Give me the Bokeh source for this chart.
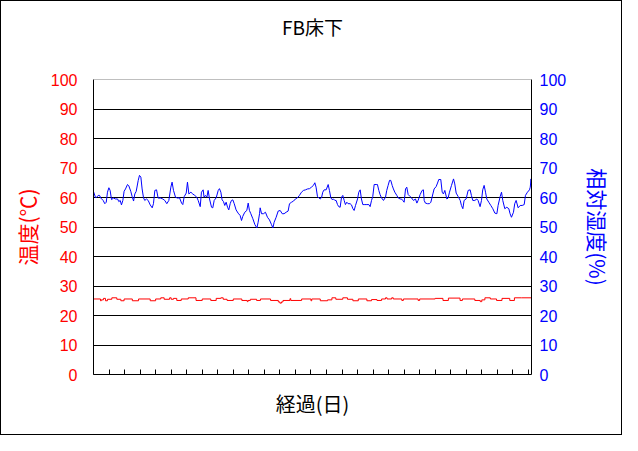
from bokeh.plotting import figure
from bokeh.models import LinearAxis, Range1d, FixedTicker, Span
from bokeh.embed import file_html
from bokeh.resources import INLINE

title_text = "FB床下"
x_title = "経過(日)"
left_title = "温度(℃)"
right_title = "相対湿度(%)"
y_ticks = [0, 10, 20, 30, 40, 50, 60, 70, 80, 90, 100]
day_ticks = list(range(0, 29))

# relative humidity (%) vs elapsed days
rh_day = [0.00, 0.13, 0.19, 0.30, 0.39, 0.47, 0.62, 0.73, 0.82, 0.90, 0.99, 1.07, 1.16, 1.29, 1.42, 1.55, 1.63, 1.72, 1.80, 1.89,
          1.97, 2.06, 2.19, 2.27, 2.40, 2.49, 2.58, 2.66, 2.75, 2.88, 2.96, 3.05, 3.13, 3.22, 3.30, 3.41, 3.52, 3.65, 3.78, 3.86,
          3.95, 4.06, 4.16, 4.33, 4.46, 4.59, 4.72, 4.85, 4.98, 5.06, 5.15, 5.28, 5.41, 5.54, 5.67, 5.75, 5.84, 5.97, 6.05, 6.14,
          6.27, 6.39, 6.52, 6.65, 6.74, 6.87, 6.95, 7.06, 7.12, 7.21, 7.30, 7.38, 7.47, 7.60, 7.68, 7.77, 7.90, 8.03, 8.11, 8.20,
          8.28, 8.37, 8.45, 8.54, 8.63, 8.71, 8.80, 8.88, 8.97, 9.06, 9.18, 9.31, 9.44, 9.53, 9.61, 9.74, 9.87, 9.96, 10.04, 10.13,
          10.26, 10.39, 10.52, 10.60, 10.69, 10.73, 10.82, 10.94, 11.07, 11.20, 11.33, 11.46, 11.55, 11.63, 11.76, 11.89, 12.02, 12.15, 12.27, 12.40,
          12.53, 12.62, 12.75, 12.88, 13.00, 13.13, 13.26, 13.39, 13.52, 13.65, 13.78, 13.91, 14.03, 14.16, 14.25, 14.33, 14.42, 14.51, 14.59, 14.68,
          14.76, 14.85, 14.98, 15.11, 15.19, 15.28, 15.36, 15.45, 15.54, 15.62, 15.71, 15.79, 15.88, 15.97, 16.05, 16.14, 16.22, 16.31, 16.39, 16.52,
          16.61, 16.70, 16.78, 16.87, 17.00, 17.08, 17.17, 17.25, 17.34, 17.47, 17.60, 17.73, 17.81, 17.90, 17.98, 18.07, 18.20, 18.28, 18.37, 18.45,
          18.54, 18.67, 18.80, 18.88, 18.97, 19.06, 19.14, 19.23, 19.31, 19.40, 19.53, 19.61, 19.74, 19.83, 19.91, 20.00, 20.09, 20.17, 20.26, 20.39,
          20.47, 20.60, 20.73, 20.82, 20.90, 21.03, 21.16, 21.24, 21.29, 21.37, 21.50, 21.63, 21.72, 21.85, 21.93, 22.06, 22.15, 22.23, 22.36, 22.45,
          22.53, 22.62, 22.75, 22.83, 22.92, 23.05, 23.18, 23.26, 23.35, 23.48, 23.61, 23.69, 23.78, 23.86, 23.99, 24.12, 24.25, 24.33, 24.42, 24.55,
          24.68, 24.76, 24.89, 24.98, 25.06, 25.15, 25.24, 25.32, 25.45, 25.58, 25.71, 25.84, 25.97, 26.05, 26.18, 26.27, 26.35, 26.48, 26.61, 26.74,
          26.82, 26.91, 27.04, 27.12, 27.21, 27.34, 27.47, 27.60, 27.73, 27.81, 27.94, 28.07, 28.12, 28.17, 28.20]
rh_val = [62.0, 60.0, 60.0, 60.7, 60.7, 59.8, 59.0, 57.9, 58.4, 61.8, 63.3, 62.4, 59.3, 59.8, 59.5, 59.5, 58.6, 59.0, 57.5, 59.0,
          62.1, 62.9, 64.4, 64.0, 62.1, 60.3, 58.8, 61.2, 62.1, 65.8, 67.5, 66.9, 62.9, 59.9, 59.0, 59.5, 59.0, 57.5, 56.5, 57.9,
          62.4, 62.6, 59.8, 59.8, 59.5, 59.0, 57.9, 59.0, 63.5, 65.2, 62.4, 60.1, 59.8, 59.9, 58.1, 57.6, 60.3, 61.5, 65.2, 61.2,
          61.8, 61.2, 60.7, 60.1, 59.0, 56.9, 61.8, 62.6, 60.1, 60.7, 60.1, 62.4, 59.5, 56.7, 56.5, 59.0, 59.9, 62.4, 63.0, 61.8,
          59.2, 58.6, 57.3, 58.4, 56.7, 55.8, 57.9, 59.0, 59.2, 57.9, 55.8, 54.7, 53.9, 52.2, 53.6, 55.0, 55.6, 58.1, 55.6, 54.5,
          52.8, 50.8, 49.7, 51.6, 54.5, 56.5, 54.5, 54.5, 55.0, 53.3, 52.4, 50.8, 49.7, 51.6, 53.3, 55.4, 55.6, 54.5, 54.5, 55.0,
          55.4, 57.9, 58.4, 58.8, 59.5, 59.9, 60.7, 61.8, 62.4, 62.6, 62.9, 63.0, 63.5, 64.1, 65.0, 63.5, 60.3, 59.9, 59.5, 59.9,
          61.8, 62.6, 62.6, 64.4, 62.4, 59.9, 59.3, 59.5, 59.0, 59.0, 57.6, 56.9, 56.7, 60.1, 60.7, 59.0, 57.6, 58.4, 57.9, 57.9,
          57.5, 56.2, 55.6, 57.3, 59.5, 61.8, 62.6, 59.5, 57.6, 57.6, 57.6, 57.6, 56.9, 59.0, 60.3, 64.4, 64.4, 64.4, 62.4, 61.0,
          59.9, 59.0, 60.1, 62.4, 64.1, 65.8, 65.8, 64.1, 62.9, 61.8, 60.7, 59.9, 59.5, 59.5, 59.0, 58.4, 62.9, 63.5, 61.0, 60.3,
          59.9, 59.0, 59.5, 58.1, 59.0, 61.0, 62.4, 62.6, 59.0, 58.1, 57.9, 57.9, 58.4, 61.2, 62.9, 63.7, 64.9, 66.1, 66.1, 61.8,
          61.2, 62.4, 59.5, 59.8, 61.8, 64.1, 66.3, 64.6, 61.5, 60.3, 59.0, 57.3, 56.2, 59.0, 59.5, 62.4, 62.6, 60.7, 59.0, 59.0,
          59.5, 59.0, 56.9, 59.0, 62.6, 64.1, 61.8, 59.5, 58.4, 57.3, 56.2, 54.7, 54.5, 57.3, 60.3, 61.8, 59.0, 56.2, 56.7, 56.2,
          54.5, 53.3, 55.0, 57.9, 59.0, 56.5, 57.3, 57.3, 57.6, 60.7, 61.8, 62.6, 63.5, 66.3, 64.5]

# temperature (°C) vs elapsed days (values change at these days)
t_day = [0.00, 0.45, 0.50, 0.64, 0.77, 0.90, 1.18, 1.50, 1.76, 1.97, 2.50, 2.90, 3.65, 4.00, 4.33, 4.55, 4.90, 5.00, 5.15, 5.36,
         5.65, 6.10, 6.60, 7.00, 7.55, 7.90, 8.20, 8.35, 8.60, 9.00, 9.55, 9.90, 9.95, 10.10, 10.50, 10.75, 11.40, 11.90, 12.00, 12.10,
         12.20, 12.65, 12.70, 13.40, 14.00, 14.05, 14.60, 15.07, 15.35, 15.60, 16.05, 16.35, 16.70, 17.05, 17.60, 17.90, 18.25, 18.55, 18.80, 18.90,
         19.20, 19.30, 19.85, 19.95, 20.90, 21.00, 22.00, 22.50, 22.85, 23.60, 23.75, 24.55, 24.90, 25.00, 25.20, 25.55, 25.95, 26.30, 26.80, 27.10,
         27.55, 28.20]
t_val = [25.6, 25.0, 25.3, 25.8, 25.0, 25.5, 26.0, 25.5, 25.0, 25.6, 25.0, 25.6, 25.0, 25.6, 26.0, 25.5, 26.0, 25.5, 25.8, 25.1,
         25.6, 26.0, 25.1, 25.6, 25.1, 25.8, 26.0, 25.5, 25.1, 25.6, 25.1, 24.7, 25.1, 25.5, 25.1, 25.6, 25.1, 24.6, 24.2, 24.6,
         25.1, 25.7, 25.1, 25.6, 25.0, 25.6, 25.0, 25.3, 26.0, 25.5, 26.0, 25.5, 25.0, 25.6, 25.0, 25.4, 25.1, 25.6, 26.0, 25.6,
         26.0, 25.6, 25.1, 25.6, 25.1, 25.6, 25.8, 25.1, 25.9, 25.1, 25.6, 25.1, 24.7, 25.3, 26.0, 25.6, 25.1, 25.8, 25.1, 26.0,
         26.0, 25.9]

JP = "Noto Sans CJK JP"
RED = "#ff0000"
BLUE = "#0000ff"

p = figure(width=622, height=435, output_backend="svg", toolbar_location=None,
           x_range=Range1d(0, 28.2), y_range=Range1d(0, 100),
           min_border_left=92, min_border_right=92, min_border_top=78, min_border_bottom=62,
           background_fill_color="white", border_fill_color="white")
p.extra_y_ranges = {"rh": Range1d(0, 100)}
p.outline_line_color = None
p.styles = {"border": "1px solid black"}

# bottom x axis (grab it before adding the title axis above)
xa = p.below[0]

# chart title, drawn as the label of a bare axis above the plot
ta = LinearAxis(ticker=FixedTicker(ticks=[]))
ta.axis_line_color = None
ta.major_tick_line_color = None
ta.minor_tick_line_color = None
ta.axis_label = title_text
ta.axis_label_text_font = JP
ta.axis_label_text_font_size = "19px"
ta.axis_label_text_font_style = "normal"
ta.axis_label_text_color = "black"
ta.axis_label_standoff = 40
p.add_layout(ta, "above")

# x axis
xa.ticker = FixedTicker(ticks=day_ticks)
xa.major_label_overrides = {d: "" for d in day_ticks}
xa.major_tick_in = 5
xa.major_tick_out = 0
xa.minor_tick_line_color = None
xa.axis_line_color = "black"
xa.major_tick_line_color = "black"
xa.axis_label = x_title
xa.axis_label_text_font = JP
xa.axis_label_text_font_size = "20px"
xa.axis_label_text_font_style = "normal"
xa.axis_label_text_color = "black"
xa.axis_label_standoff = 14
xa.major_label_text_font_size = "8px"

# left axis
ya = p.left[0]
ya.ticker = FixedTicker(ticks=y_ticks)
ya.major_tick_in = 0
ya.major_tick_out = 0
ya.minor_tick_line_color = None
ya.axis_line_color = "black"
ya.major_label_text_color = RED
ya.major_label_text_font = "Liberation Sans"
ya.major_label_text_font_size = "16px"
ya.major_label_standoff = 16
ya.axis_label = left_title
ya.axis_label_text_color = RED
ya.axis_label_text_font = JP
ya.axis_label_text_font_size = "21px"
ya.axis_label_text_font_style = "normal"
ya.axis_label_standoff = 6

ra = LinearAxis(y_range_name="rh", ticker=FixedTicker(ticks=y_ticks))
ra.major_tick_in = 0
ra.major_tick_out = 0
ra.minor_tick_line_color = None
ra.axis_line_color = "black"
ra.major_label_text_color = BLUE
ra.major_label_text_font = "Liberation Sans"
ra.major_label_text_font_size = "16px"
ra.major_label_standoff = 8
ra.axis_label = right_title
ra.axis_label_text_color = BLUE
ra.axis_label_text_font = JP
ra.axis_label_text_font_size = "21px"
ra.axis_label_text_font_style = "normal"
ra.axis_label_standoff = 14
p.add_layout(ra, "right")

p.xgrid.visible = False
p.ygrid.ticker = FixedTicker(ticks=y_ticks[1:-1])
p.ygrid.grid_line_color = "black"
p.ygrid.grid_line_width = 1
p.add_layout(Span(location=100, dimension="width", line_color="#808080", line_width=1))

p.step(t_day, t_val, mode="after", line_color=RED, line_width=1)
p.line(rh_day, rh_val, line_color=BLUE, line_width=1, y_range_name="rh")

open("out.html", "w").write(file_html(p, INLINE))
